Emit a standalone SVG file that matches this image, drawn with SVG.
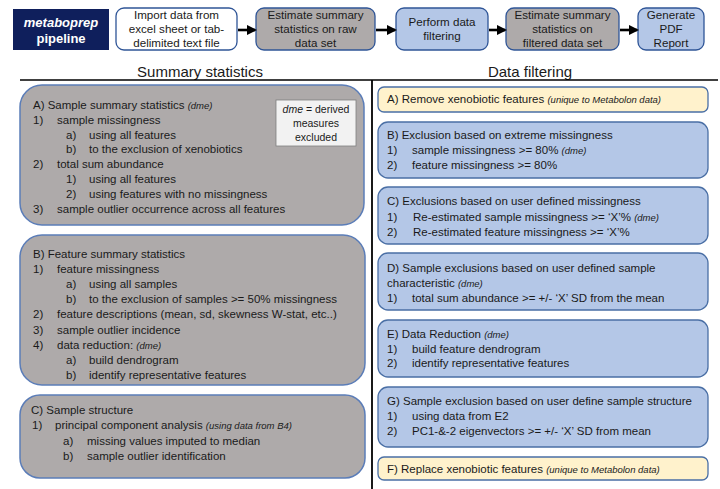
<svg xmlns="http://www.w3.org/2000/svg" width="720" height="489" viewBox="0 0 720 489">
<style>
text{font-family:"Liberation Sans",Arial,sans-serif;fill:#1a1a1a;font-size:11.5px}
.ft{font-size:11.6px;text-anchor:middle}
.hd{font-size:15px;text-anchor:middle}
.it{font-style:italic;font-size:9.5px}
.gray{fill:#aeaaaa;stroke:#5b7db8;stroke-width:1.5}
.blue{fill:#b4c7e7;stroke:#4a6fa5;stroke-width:1.3}
.yel{fill:#fff2cc;stroke:#4a6fa5;stroke-width:1.3}
.fw{fill:#ffffff;stroke:#2f5597;stroke-width:1.3}
.fg{fill:#aeaaaa;stroke:#2f5597;stroke-width:1.3}
.fb{fill:#b4c7e7;stroke:#2f5597;stroke-width:1.3}
.arr{stroke:#000;stroke-width:2.6;fill:none;marker-end:url(#ah)}
</style>
<defs>
<marker id="ah" markerWidth="4" markerHeight="4" refX="3.2" refY="2" orient="auto" markerUnits="strokeWidth">
<path d="M0,0 L4,2 L0,4 z" fill="#000"/>
</marker>
</defs>
<rect width="720" height="489" fill="#ffffff"/>

<g id="pipeline-title">
<rect x="13" y="9" width="96" height="41" fill="#0f1f5c"/>
<text x="61" y="27" text-anchor="middle" style="fill:#fff;font-weight:bold;font-style:italic;font-size:13px">metaboprep</text>
<text x="61" y="43" text-anchor="middle" style="fill:#fff;font-weight:bold;font-size:13px">pipeline</text>
</g>

<g id="flow-import">
<rect class="fw" x="116" y="8" width="121" height="42" rx="8"/>
<text class="ft" x="176.5" y="19">Import data from</text>
<text class="ft" x="176.5" y="33">excel sheet or tab-</text>
<text class="ft" x="176.5" y="47">delimited text file</text>
</g>
<g id="flow-raw">
<rect class="fg" x="256" y="8" width="119" height="42" rx="8"/>
<text class="ft" x="315.5" y="19">Estimate summary</text>
<text class="ft" x="315.5" y="33">statistics on raw</text>
<text class="ft" x="315.5" y="47">data set</text>
</g>
<g id="flow-filter">
<rect class="fb" x="396" y="8" width="92" height="42" rx="8"/>
<text class="ft" x="442" y="26">Perform data</text>
<text class="ft" x="442" y="40">filtering</text>
</g>
<g id="flow-filtered">
<rect class="fg" x="506" y="8" width="113" height="42" rx="8"/>
<text class="ft" x="562.5" y="19">Estimate summary</text>
<text class="ft" x="562.5" y="33">statistics on</text>
<text class="ft" x="562.5" y="47">filtered data set</text>
</g>
<g id="flow-report">
<rect class="fb" x="638" y="8" width="66" height="42" rx="8"/>
<text class="ft" x="671" y="19">Generate</text>
<text class="ft" x="671" y="33">PDF</text>
<text class="ft" x="671" y="47">Report</text>
</g>

<g id="connectors">
<line class="arr" x1="238" y1="30" x2="255" y2="30"/>
<line class="arr" x1="376" y1="30" x2="395" y2="30"/>
<line class="arr" x1="489" y1="30" x2="505" y2="30"/>
<line class="arr" x1="620" y1="30" x2="637" y2="30"/>
</g>

<g id="dividers">
<text class="hd" x="200" y="77">Summary statistics</text>
<text class="hd" x="530" y="77">Data filtering</text>
<line x1="20" y1="80" x2="718" y2="80" stroke="#000" stroke-width="1.6"/>
<line x1="372" y1="80" x2="372" y2="489" stroke="#000" stroke-width="1.8"/>
</g>

<g id="sum-A">
<rect class="gray" x="20" y="85" width="344" height="140" rx="22"/>
<text x="33" y="109">A) Sample summary statistics <tspan class="it">(dme)</tspan></text>
<text x="33" y="123.8">1)</text><text x="57" y="123.8">sample missingness</text>
<text x="66" y="138.6">a)</text><text x="89" y="138.6">using all features</text>
<text x="66" y="153.4">b)</text><text x="89" y="153.4">to the exclusion of xenobiotics</text>
<text x="33" y="168.2">2)</text><text x="57" y="168.2">total sum abundance</text>
<text x="66" y="183">1)</text><text x="89" y="183">using all features</text>
<text x="66" y="197.8">2)</text><text x="89" y="197.8">using features with no missingness</text>
<text x="33" y="212.6">3)</text><text x="57" y="212.6">sample outlier occurrence across all features</text>
</g>

<g id="dme-note">
<rect x="276" y="100" width="80" height="46" fill="#f2f2f2" stroke="#7f7f7f" stroke-width="0.8"/>
<text x="316" y="113" text-anchor="middle" style="font-size:10.5px"><tspan font-style="italic">dme</tspan> =  derived</text>
<text x="316" y="127" text-anchor="middle" style="font-size:10.5px">measures</text>
<text x="316" y="141" text-anchor="middle" style="font-size:10.5px">excluded</text>
</g>

<g id="sum-B">
<rect class="gray" x="20" y="235" width="345" height="150" rx="22"/>
<text x="33" y="258">B) Feature summary statistics</text>
<text x="33" y="273.1">1)</text><text x="57" y="273.1">feature missingness</text>
<text x="66" y="288.2">a)</text><text x="89" y="288.2">using all samples</text>
<text x="66" y="303.3">b)</text><text x="89" y="303.3">to the exclusion of samples &gt;= 50% missingness</text>
<text x="33" y="318.4">2)</text><text x="57" y="318.4">feature descriptions (mean, sd, skewness W-stat, etc..)</text>
<text x="33" y="333.5">3)</text><text x="57" y="333.5">sample outlier incidence</text>
<text x="33" y="348.6">4)</text><text x="57" y="348.6">data reduction: <tspan class="it">(dme)</tspan></text>
<text x="66" y="363.7">a)</text><text x="89" y="363.7">build dendrogram</text>
<text x="66" y="378.8">b)</text><text x="89" y="378.8">identify representative features</text>
</g>

<g id="sum-C">
<rect class="gray" x="20" y="395" width="345" height="83" rx="20"/>
<text x="31" y="414">C) Sample structure</text>
<text x="32" y="429">1)</text><text x="55" y="429">principal component analysis <tspan class="it">(using data from B4)</tspan></text>
<text x="63" y="444.5">a)</text><text x="87" y="444.5">missing values imputed to median</text>
<text x="63" y="460">b)</text><text x="87" y="460">sample outlier identification</text>
</g>

<g id="filt-A">
<rect class="yel" x="378" y="87" width="330" height="25" rx="6"/>
<text x="387" y="103">A) Remove xenobiotic features <tspan class="it">(unique to Metabolon data)</tspan></text>
</g>
<g id="filt-B">
<rect class="blue" x="378" y="122" width="330" height="56" rx="10"/>
<text x="387" y="139">B) Exclusion based on extreme missingness</text>
<text x="387" y="154">1)</text><text x="412" y="154">sample missingness &gt;= 80% <tspan class="it">(dme)</tspan></text>
<text x="387" y="169">2)</text><text x="412" y="169">feature missingness &gt;= 80%</text>
</g>
<g id="filt-C">
<rect class="blue" x="378" y="187" width="330" height="57" rx="10"/>
<text x="387" y="205">C) Exclusions based on user defined missingness</text>
<text x="387" y="220.5">1)</text><text x="413" y="220.5">Re-estimated sample missingness &gt;= ‘X’% <tspan class="it">(dme)</tspan></text>
<text x="387" y="236">2)</text><text x="413" y="236">Re-estimated feature missingness &gt;= ‘X’%</text>
</g>
<g id="filt-D">
<rect class="blue" x="378" y="253" width="330" height="57" rx="10"/>
<text x="387" y="272">D) Sample exclusions based on user defined sample</text>
<text x="387" y="287">characteristic <tspan class="it">(dme)</tspan></text>
<text x="387" y="302">1)</text><text x="412" y="302">total sum abundance &gt;= +/- ‘X’ SD from the mean</text>
</g>
<g id="filt-E">
<rect class="blue" x="378" y="320" width="330" height="57" rx="10"/>
<text x="387" y="338">E) Data Reduction <tspan class="it">(dme)</tspan></text>
<text x="387" y="352.5">1)</text><text x="412" y="352.5">build feature dendrogram</text>
<text x="387" y="367">2)</text><text x="412" y="367">identify representative features</text>
</g>
<g id="filt-G">
<rect class="blue" x="378" y="387" width="330" height="60" rx="10"/>
<text x="387" y="405">G) Sample exclusion based on user define sample structure</text>
<text x="387" y="420">1)</text><text x="412" y="420">using data from E2</text>
<text x="387" y="435">2)</text><text x="412" y="435">PC1-&amp;-2 eigenvectors &gt;= +/- ‘X’ SD from mean</text>
</g>
<g id="filt-F">
<rect class="yel" x="378" y="457" width="330" height="23" rx="6"/>
<text x="387" y="473">F) Replace xenobiotic features <tspan class="it">(unique to Metabolon data)</tspan></text>
</g>
</svg>
